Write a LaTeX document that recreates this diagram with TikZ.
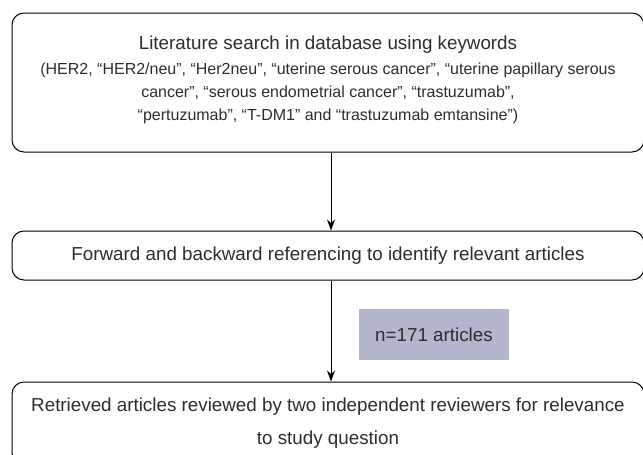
\documentclass[tikz,border=0pt]{standalone}
\usepackage{fontspec}
\setmainfont{Liberation Sans}
\usetikzlibrary{arrows.meta, positioning}
\usepackage{xcolor}
\definecolor{countgrey}{RGB}{180,182,205}
\definecolor{textgrey}{RGB}{45,45,45}
\tikzset{%
	stage box/.style={
		draw,
		rounded corners=12pt,
		line width=1pt,
		minimum width=632pt,
		align=center,
		text=textgrey
	},
	stage text/.style={
		align=center,
		text=textgrey,
		inner sep=0pt
	},
	count box/.style={
		fill=countgrey,
		minimum width=150pt,
		minimum height=51pt,
		text=textgrey
	},
}
\begin{document}
\begin{tikzpicture}[
		x=1pt, y=-1pt,
		flow arrow/.style={line width=1pt, -{Stealth[length=11pt, width=8pt]}}
		]
		\useasboundingbox (0,0) rectangle (643,455);
		\clip (0,0) rectangle (643,455);
		
		% Stages of the search
		\node[stage box, minimum height=139pt] (search) at (328,82.5) {};
		\node[stage text, font=\fontsize{16}{23}\selectfont] (search text) at ([yshift=3pt]search.center) {%
			{\fontsize{18.8}{23}\selectfont Literature search in database using keywords}\\[2pt]
			(HER2, “HER2/neu”, “Her2neu”, “uterine serous cancer”, “uterine papillary serous\\
			cancer”, “serous endometrial cancer”, “trastuzumab”,\\
			“pertuzumab”, “T-DM1” and “trastuzumab emtansine”)};
		\node[stage box, minimum height=49pt, font=\fontsize{18.8}{28}\selectfont] (referencing) at (328,255.5)
			{Forward and backward referencing to identify relevant articles};
		\node[stage box, minimum height=83pt, font=\fontsize{18.8}{29}\selectfont] (review) at (328,423.5)
			{Retrieved articles reviewed by two independent reviewers for relevance\\[4pt] to study question};
		
		% Connectors
		\draw[flow arrow] ([xshift=3pt]search.south) -- ([xshift=3pt]referencing.north);
		\draw[flow arrow] ([xshift=3pt]referencing.south) -- ([xshift=3pt]review.north);
		
		% Number of articles
		\node[count box, font=\fontsize{18.8}{22}\selectfont] (count) at (434,334.5) {n=171 articles};
		
	\end{tikzpicture}
\end{document}
